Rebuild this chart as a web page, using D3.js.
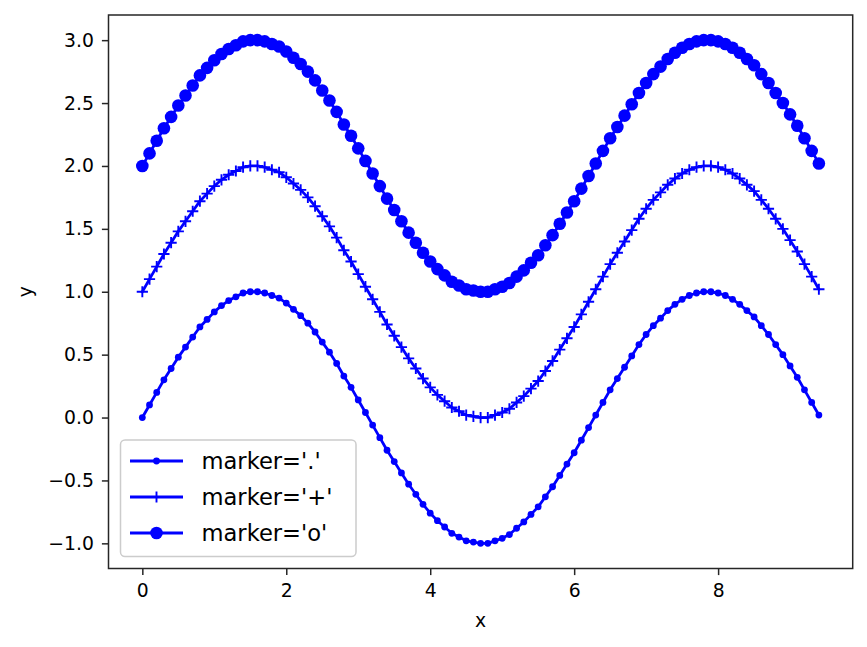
<!DOCTYPE html>
<html>
<head>
<meta charset="utf-8">
<script src="https://cdn.jsdelivr.net/npm/d3@7"></script>
<style>
  body { margin: 0; background: #fff; }
  svg text { font-family: "DejaVu Sans", sans-serif; fill: #000; }
</style>
</head>
<body>
<div id="chart"></div>
<script>
// figure size, same as the window
const width = 867;
const height = 647;
const margin = {left: 108.5, right: 14.3, top: 15, bottom: 78.5};

// x values (0 to 9.4, step 0.1)
const xs = [0.0,0.1,0.2,0.3,0.4,0.5,0.6,0.7,0.8,0.9,1.0,1.1,1.2,1.3,1.4,1.5,1.6,1.7,1.8,1.9,
  2.0,2.1,2.2,2.3,2.4,2.5,2.6,2.7,2.8,2.9,3.0,3.1,3.2,3.3,3.4,3.5,3.6,3.7,3.8,3.9,
  4.0,4.1,4.2,4.3,4.4,4.5,4.6,4.7,4.8,4.9,5.0,5.1,5.2,5.3,5.4,5.5,5.6,5.7,5.8,5.9,
  6.0,6.1,6.2,6.3,6.4,6.5,6.6,6.7,6.8,6.9,7.0,7.1,7.2,7.3,7.4,7.5,7.6,7.7,7.8,7.9,
  8.0,8.1,8.2,8.3,8.4,8.5,8.6,8.7,8.8,8.9,9.0,9.1,9.2,9.3,9.4];

// marker='.'
const yDot = [0.00,0.10,0.20,0.30,0.39,0.48,0.56,0.64,0.72,0.78,0.84,0.89,0.93,0.96,0.99,1.00,1.00,0.99,0.97,0.95,
  0.91,0.86,0.81,0.75,0.68,0.60,0.52,0.43,0.33,0.24,0.14,0.04,-0.06,-0.16,-0.26,-0.35,-0.44,-0.53,-0.61,-0.69,
  -0.76,-0.82,-0.87,-0.92,-0.95,-0.98,-0.99,-1.00,-1.00,-0.98,-0.96,-0.93,-0.88,-0.83,-0.77,-0.71,-0.63,-0.55,-0.46,-0.37,
  -0.28,-0.18,-0.08,0.02,0.12,0.22,0.31,0.40,0.49,0.58,0.66,0.73,0.79,0.85,0.90,0.94,0.97,0.99,1.00,1.00,
  0.99,0.97,0.94,0.90,0.85,0.80,0.73,0.66,0.58,0.50,0.41,0.32,0.22,0.12,0.02];

// marker='+'
const yPlus = [1.00,1.10,1.20,1.30,1.39,1.48,1.56,1.64,1.72,1.78,1.84,1.89,1.93,1.96,1.99,2.00,2.00,1.99,1.97,1.95,
  1.91,1.86,1.81,1.75,1.68,1.60,1.52,1.43,1.33,1.24,1.14,1.04,0.94,0.84,0.74,0.65,0.56,0.47,0.39,0.31,
  0.24,0.18,0.13,0.08,0.05,0.02,0.01,0.00,0.00,0.02,0.04,0.07,0.12,0.17,0.23,0.29,0.37,0.45,0.54,0.63,
  0.72,0.82,0.92,1.02,1.12,1.22,1.31,1.40,1.49,1.58,1.66,1.73,1.79,1.85,1.90,1.94,1.97,1.99,2.00,2.00,
  1.99,1.97,1.94,1.90,1.85,1.80,1.73,1.66,1.58,1.50,1.41,1.32,1.22,1.12,1.02];

// marker='o'
const yCircle = [2.00,2.10,2.20,2.30,2.39,2.48,2.56,2.64,2.72,2.78,2.84,2.89,2.93,2.96,2.99,3.00,3.00,2.99,2.97,2.95,
  2.91,2.86,2.81,2.75,2.68,2.60,2.52,2.43,2.33,2.24,2.14,2.04,1.94,1.84,1.74,1.65,1.56,1.47,1.39,1.31,
  1.24,1.18,1.13,1.08,1.05,1.02,1.01,1.00,1.00,1.02,1.04,1.07,1.12,1.17,1.23,1.29,1.37,1.45,1.54,1.63,
  1.72,1.82,1.92,2.02,2.12,2.22,2.31,2.40,2.49,2.58,2.66,2.73,2.79,2.85,2.90,2.94,2.97,2.99,3.00,3.00,
  2.99,2.97,2.94,2.90,2.85,2.80,2.73,2.66,2.58,2.50,2.41,2.32,2.22,2.12,2.02];

const labels = ["marker='.'", "marker='+'", "marker='o'"];
const xTicks = [0, 2, 4, 6, 8];
const yTicks = [-1.0, -0.5, 0.0, 0.5, 1.0, 1.5, 2.0, 2.5, 3.0];

const series = [
  {label: labels[0], ys: yDot, marker: "dot"},
  {label: labels[1], ys: yPlus, marker: "plus"},
  {label: labels[2], ys: yCircle, marker: "circle"}
];

const svg = d3.select("#chart")
  .append("svg")
  .attr("width", width)
  .attr("height", height);

// scales with matplotlib's 5% padding
const xScale = d3.scaleLinear()
  .domain([-0.47, 9.87])
  .range([margin.left, width - margin.right]);

const yScale = d3.scaleLinear()
  .domain([-1.2, 3.2])
  .range([height - margin.bottom, margin.top]);

const fmtY = d => d3.format(".1f")(d).replace("-", "\u2212");

// axes
const xAxis = svg.append("g")
  .attr("transform", `translate(0,${height - margin.bottom})`)
  .call(d3.axisBottom(xScale).tickValues(xTicks).tickSize(6.6).tickPadding(9).tickFormat(d3.format("d")));

const yAxis = svg.append("g")
  .attr("transform", `translate(${margin.left},0)`)
  .call(d3.axisLeft(yScale).tickValues(yTicks).tickSize(6.6).tickPadding(8).tickFormat(fmtY));

[xAxis, yAxis].forEach(g => {
  g.select(".domain").remove();
  g.selectAll(".tick line").attr("stroke", "#262626").attr("stroke-width", 1.5);
  g.selectAll(".tick text").attr("font-size", "18.8px").attr("fill", "#000")
    .style("font-family", "DejaVu Sans");
});

// frame
svg.append("rect")
  .attr("x", margin.left)
  .attr("y", margin.top)
  .attr("width", width - margin.left - margin.right)
  .attr("height", height - margin.top - margin.bottom)
  .attr("fill", "none")
  .attr("stroke", "#262626")
  .attr("stroke-width", 1.5);

// axis labels
svg.append("text")
  .attr("x", (margin.left + width - margin.right) / 2)
  .attr("y", 627)
  .attr("text-anchor", "middle")
  .attr("font-size", "18.8px")
  .text("x");

svg.append("text")
  .attr("transform", `translate(32,${(margin.top + height - margin.bottom) / 2}) rotate(-90)`)
  .attr("text-anchor", "middle")
  .attr("font-size", "18.8px")
  .text("y");

const color = "#0000ff";

function drawMarker(g, type, x, y) {
  if (type === "dot") {
    g.append("circle").attr("cx", x).attr("cy", y).attr("r", 3.4).attr("fill", color);
  } else if (type === "circle") {
    g.append("circle").attr("cx", x).attr("cy", y).attr("r", 6.3).attr("fill", color);
  } else {
    g.append("path")
      .attr("d", `M${x - 5.6},${y}H${x + 5.6}M${x},${y - 5.6}V${y + 5.6}`)
      .attr("stroke", color).attr("stroke-width", 1.9).attr("fill", "none");
  }
}

const line = d3.line()
  .x((d, i) => xScale(xs[i]))
  .y(d => yScale(d));

const plot = svg.append("g");

series.forEach(s => {
  plot.append("path")
    .datum(s.ys)
    .attr("d", line)
    .attr("fill", "none")
    .attr("stroke", color)
    .attr("stroke-width", 2.8)
    .attr("stroke-linejoin", "round")
    .attr("stroke-linecap", "square");
  const mg = plot.append("g");
  s.ys.forEach((v, i) => drawMarker(mg, s.marker, xScale(xs[i]), yScale(v)));
});

// legend, lower left
const legend = svg.append("g");
legend.append("rect")
  .attr("x", 120.5)
  .attr("y", 440)
  .attr("width", 235.5)
  .attr("height", 116.5)
  .attr("rx", 4.5)
  .attr("fill", "#fff")
  .attr("fill-opacity", 0.8)
  .attr("stroke", "#cccccc")
  .attr("stroke-width", 1.5);

series.forEach((s, i) => {
  const cy = 461 + i * 36;
  legend.append("line")
    .attr("x1", 130).attr("x2", 183)
    .attr("y1", cy).attr("y2", cy)
    .attr("stroke", color).attr("stroke-width", 2.8);
  drawMarker(legend, s.marker, 156.5, cy);
  legend.append("text")
    .attr("x", 201.5)
    .attr("y", cy)
    .attr("dy", "0.35em")
    .attr("font-size", "22.6px")
    .text(s.label);
});
</script>
</body>
</html>
